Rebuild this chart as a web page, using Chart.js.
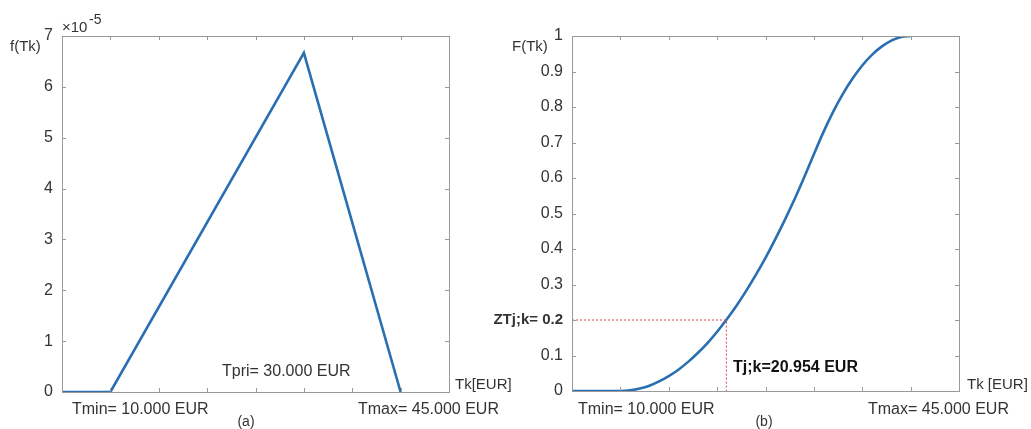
<!DOCTYPE html>
<html>
<head>
<meta charset="utf-8">
<script src="https://cdn.jsdelivr.net/npm/chart.js@4.4.0/dist/chart.umd.min.js"></script>
<style>
  body { margin: 0; background: #fff; }
  #wrap { position: relative; width: 1031px; height: 429px; }
  #wrap canvas { position: absolute; left: 0; top: 0; }
</style>
</head>
<body>
<div id="wrap">
  <canvas id="chartA" width="1031" height="429"></canvas>
  <canvas id="chartB" width="1031" height="429"></canvas>
</div>
<script>
// x values (EUR) and densities (x 10^-5) for panel (a)
var densityT = [5000, 10000, 30000, 40000];
var densityF = [0, 0, 6.67, 0];

// cumulative curve for panel (b)
var cdfT = [5000, 10000, 11000, 12000, 13000, 14000, 15000, 16000, 17000, 18000, 19000, 20000,
            21000, 22000, 23000, 24000, 25000, 26000, 27000, 28000, 29000, 30000,
            31000, 32000, 33000, 34000, 35000, 36000, 37000, 38000, 39000, 40000];
var cdfF = [0, 0, 0.002, 0.007, 0.015, 0.027, 0.042, 0.06, 0.082, 0.107, 0.135, 0.167,
            0.202, 0.24, 0.282, 0.327, 0.375, 0.427, 0.482, 0.54, 0.602, 0.667,
            0.73, 0.787, 0.837, 0.88, 0.917, 0.947, 0.97, 0.987, 0.997, 1];

// red dotted marker lines in panel (b)
var markT = [5000, 20954, 20954];
var markF = [0.2, 0.2, 0];

var xTicks = { min: 5000, max: 45000, step: 5000 };
var yTicksA = { min: 0, max: 7, step: 1 };
var yTicksB = { min: 0, max: 1, step: 0.1 };

var blue = '#2a6fb2';
var boxColor = '#9a9a9a';
var textColor = '#333';
var fontFam = '"Liberation Sans", Arial, sans-serif';

function toPoints(xs, ys) {
    return xs.map(function(x, i) { return { x: x, y: ys[i] }; });
}

// box round the plot area with small inward ticks on all four sides (matlab style)
var boxPlugin = {
    id: 'box',
    afterDatasetsDraw: function(chart) {
        var ctx = chart.ctx, a = chart.chartArea;
        var xs = chart.scales.x, ys = chart.scales.y;
        ctx.save();
        ctx.strokeStyle = boxColor;
        ctx.lineWidth = 1;
        ctx.strokeRect(Math.round(a.left) + 0.5, Math.round(a.top) + 0.5,
                       Math.round(a.right - a.left), Math.round(a.bottom - a.top));
        ctx.beginPath();
        xs.ticks.forEach(function(t) {
            var px = Math.round(xs.getPixelForValue(t.value)) + 0.5;
            ctx.moveTo(px, a.bottom); ctx.lineTo(px, a.bottom - 4);
            ctx.moveTo(px, a.top); ctx.lineTo(px, a.top + 4);
        });
        ys.ticks.forEach(function(t) {
            var py = Math.round(ys.getPixelForValue(t.value)) + 0.5;
            ctx.moveTo(a.left, py); ctx.lineTo(a.left + 4, py);
            ctx.moveTo(a.right, py); ctx.lineTo(a.right - 4, py);
        });
        ctx.stroke();
        ctx.restore();
    }
};

// free text labels
var textPlugin = {
    id: 'texts',
    afterDraw: function(chart, args, opts) {
        var ctx = chart.ctx;
        ctx.save();
        ctx.textBaseline = 'middle';
        (opts.items || []).forEach(function(it) {
            ctx.font = (it.bold ? 'bold ' : '') + it.size + 'px ' + fontFam;
            ctx.fillStyle = it.color || textColor;
            ctx.textAlign = it.align || 'left';
            ctx.fillText(it.text, it.x, it.y);
        });
        ctx.restore();
    }
};

function makeOptions(pad, yWidth, xHeight, yt, tickCb, tickFont, texts) {
    return {
        responsive: false,
        animation: false,
        layout: { padding: pad },
        plugins: { legend: { display: false }, tooltip: { enabled: false }, texts: { items: texts } },
        elements: { point: { radius: 0 } },
        scales: {
            x: {
                type: 'linear', min: xTicks.min, max: xTicks.max,
                ticks: { display: false, stepSize: xTicks.step },
                grid: { display: false, drawTicks: false },
                border: { display: false },
                afterFit: function(s) { s.height = xHeight; }
            },
            y: {
                type: 'linear', min: yt.min, max: yt.max,
                ticks: { stepSize: yt.step, padding: 9, color: textColor, font: tickFont, callback: tickCb },
                grid: { display: false, drawTicks: false },
                border: { display: false },
                afterFit: function(s) { s.width = yWidth; }
            }
        }
    };
}

// panel (a)
new Chart(document.getElementById('chartA'), {
    type: 'line',
    data: {
        datasets: [{
            data: toPoints(densityT, densityF),
            borderColor: blue, borderWidth: 2.6, tension: 0, fill: false
        }]
    },
    options: makeOptions({ left: 0, right: 582, top: 36, bottom: 0 }, 62, 37, yTicksA,
        function(v) { return String(Math.round(v)); },
        { family: fontFam, size: 16 },
        [
            { text: 'f(Tk)', x: 10, y: 47, size: 15 },
            { text: '\u00d710', x: 62, y: 28, size: 15 },
            { text: '-5', x: 89, y: 20, size: 14 },
            { text: 'Tpri= 30.000 EUR', x: 222, y: 372, size: 16 },
            { text: 'Tk[EUR]', x: 455, y: 385, size: 15 },
            { text: 'Tmin= 10.000 EUR', x: 72, y: 410, size: 16 },
            { text: 'Tmax= 45.000 EUR', x: 358, y: 410, size: 16 },
            { text: '(a)', x: 246, y: 422, size: 14, align: 'center' }
        ])
    ,
    plugins: [boxPlugin, textPlugin]
});

// panel (b)
new Chart(document.getElementById('chartB'), {
    type: 'line',
    data: {
        datasets: [{
            data: toPoints(markT, markF),
            borderColor: '#e8404a', borderWidth: 1, borderDash: [2, 2], tension: 0, fill: false
        }, {
            data: toPoints(cdfT, cdfF),
            borderColor: blue, borderWidth: 2.6, cubicInterpolationMode: 'monotone', fill: false
        }]
    },
    options: makeOptions({ left: 0, right: 72, top: 36, bottom: 0 }, 572, 38, yTicksB,
        function(v) {
            var r = Math.round(v * 10) / 10;
            if (r === 0.2) return 'ZTj;k= 0.2';
            return String(r);
        },
        function(c) {
            var r = c.tick ? Math.round(c.tick.value * 10) / 10 : 0;
            return r === 0.2 ? { family: fontFam, size: 15, weight: 'bold' } : { family: fontFam, size: 16 };
        },
        [
            { text: 'F(Tk)', x: 512, y: 47, size: 15 },
            { text: 'Tj;k=20.954 EUR', x: 733, y: 368, size: 16, bold: true, color: '#111' },
            { text: 'Tk [EUR]', x: 967, y: 385, size: 15 },
            { text: 'Tmin= 10.000 EUR', x: 578, y: 410, size: 16 },
            { text: 'Tmax= 45.000 EUR', x: 868, y: 410, size: 16 },
            { text: '(b)', x: 764, y: 422, size: 14, align: 'center' }
        ]),
    plugins: [boxPlugin, textPlugin]
});
</script>
</body>
</html>
